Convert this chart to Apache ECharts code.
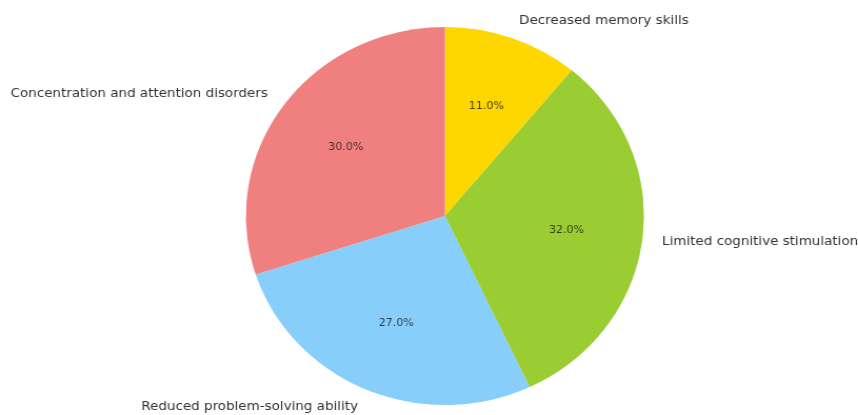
<!DOCTYPE html>
<html>
<head>
<meta charset="utf-8">
<script src="https://cdn.jsdelivr.net/npm/echarts@6/dist/echarts.min.js"></script>
<style>
  html, body { margin: 0; padding: 0; background: #ffffff; overflow: hidden; }
  #wrap { width: 858px; height: 415px; overflow: hidden; }
  #chart { width: 815px; height: 415px; transform-origin: 0 0; transform: scaleX(1.0528); }
</style>
</head>
<body>
<div id="wrap"><div id="chart"></div></div>
<script>
// Wedge order runs clockwise from 12 o'clock
const categories = [
  'Decreased memory skills',
  'Limited cognitive stimulation',
  'Reduced problem-solving ability',
  'Concentration and attention disorders'
];
const shares = [11, 32, 27, 30];
const colors = ['#FFD700', '#9ACD32', '#87CEFA', '#F08080'];

const R = 189;               // pie radius in px
const CX = 422.6, CY = 216;  // pie centre

const chart = echarts.init(document.getElementById('chart'), null, { renderer: 'canvas' });

const total = shares.reduce((a, b) => a + b, 0);

chart.setOption({
  animation: false,
  backgroundColor: '#ffffff',
  series: [
    {
      // the wedges, with category names just outside the rim
      type: 'pie',
      center: [CX, CY],
      radius: [0, R],
      startAngle: 90,
      clockwise: true,
      avoidLabelOverlap: false,
      silent: true,
      data: categories.map((name, i) => ({
        name,
        value: shares[i],
        itemStyle: { color: colors[i] }
      })),
      label: {
        show: true,
        position: 'outside',
        formatter: '{b}',
        fontFamily: 'DejaVu Sans',
        fontSize: 12.8,
        color: '#333333',
        distanceToLabelLine: 0
      },
      labelLine: { show: false, length: 0.1 * R, length2: 0 },
      emphasis: { disabled: true }
    },
    {
      // transparent ring that carries the percentage text at 0.6 of the radius
      type: 'pie',
      center: [CX, CY],
      radius: [0, 1.2 * R],
      startAngle: 90,
      clockwise: true,
      silent: true,
      avoidLabelOverlap: false,
      data: categories.map((name, i) => ({
        name,
        value: shares[i],
        itemStyle: { color: 'rgba(0,0,0,0)' }
      })),
      label: {
        show: true,
        position: 'inside',
        formatter: p => (p.value / total * 100).toFixed(1) + '%',
        fontFamily: 'DejaVu Sans',
        fontSize: 10.5,
        color: 'rgba(25,25,25,0.8)'
      },
      labelLine: { show: false },
      emphasis: { disabled: true }
    }
  ]
});
</script>
</body>
</html>
